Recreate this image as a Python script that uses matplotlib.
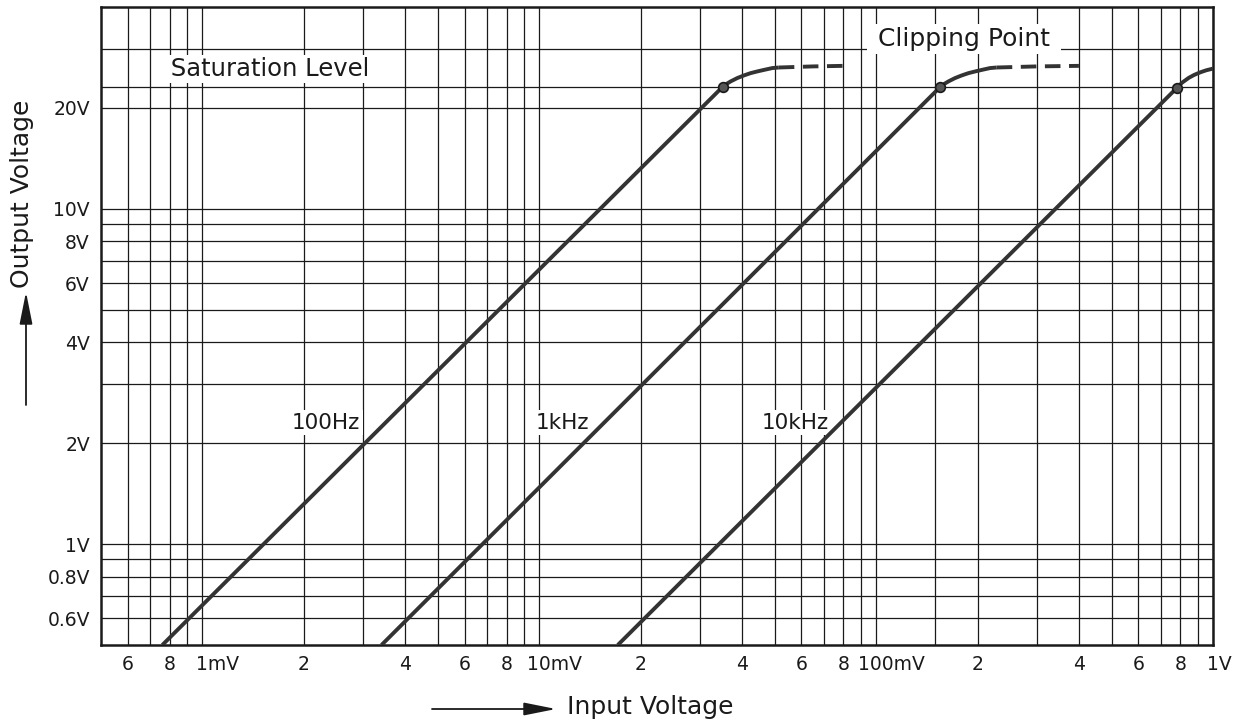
import numpy as np
import matplotlib
matplotlib.use("Agg")
import matplotlib.pyplot as plt
from matplotlib.ticker import NullFormatter
from matplotlib.transforms import ScaledTranslation

# input voltage in mV, output voltage in V
hz100_x = [0.76, 35.0, 36.0, 37.0, 38.7, 40.5, 42.4, 44.4, 46.7, 49.2, 51.4]
hz100_y = [0.5, 23.1, 23.6, 24.0, 24.55, 25.0, 25.4, 25.7, 26.0, 26.3, 26.4]
hz100_dash_x = [51.4, 65.0, 80.0]
hz100_dash_y = [26.4, 26.6, 26.7]

khz1_x = [3.4, 155.0, 159.5, 164.0, 171.5, 179.5, 188.0, 197.0, 207.0, 218.0, 228.0]
khz1_y = [0.5, 23.1, 23.6, 24.0, 24.55, 25.0, 25.4, 25.7, 26.0, 26.3, 26.4]
khz1_dash_x = [228.0, 300.0, 400.0]
khz1_dash_y = [26.4, 26.6, 26.7]

khz10_x = [17.1, 783.0, 810.0, 848.0, 880.0, 918.0, 955.0, 1000.0]
khz10_y = [0.5, 23.0, 23.8, 24.6, 25.1, 25.55, 25.9, 26.2]

clip_x = [35.0, 155.0, 783.0]
clip_y = [23.1, 23.1, 23.0]

curve_names = ["100Hz", "1kHz", "10kHz"]
curve_label_x = [2.33, 11.75, 57.5]
curve_label_y = [2.3, 2.3, 2.3]

xtick_mv = [0.6, 0.8, 1, 2, 4, 6, 8, 10, 20, 40, 60, 80, 100, 200, 400, 600, 800, 1000]
xtick_labels = ["6", "8", "1mV", "2", "4", "6", "8", "10mV", "2", "4", "6", "8",
                "100mV", "2", "4", "6", "8", "1V"]
ytick_v = [0.6, 0.8, 1, 2, 4, 6, 8, 10, 20]
ytick_labels = ["0.6V", "0.8V", "1V", "2V", "4V", "6V", "8V", "10V", "20V"]

xgrid_mv = [0.6, 0.7, 0.8, 0.9,
            1, 2, 3, 4, 5, 6, 7, 8, 9,
            10, 20, 30, 40, 50, 60, 70, 80, 90,
            100, 150, 200, 300, 400, 500, 600, 700, 800, 900]
ygrid_v = [0.6, 0.7, 0.8, 0.9, 1, 2, 3, 4, 5, 6, 7, 8, 9, 10, 20, 23.1, 30]

ink = "#1a1a1a"
curve_col = "#333333"

fig = plt.figure(figsize=(12.4, 7.22), dpi=100)
ax = fig.add_axes([0.0815, 0.1066, 0.8967, 0.8837])
ax.set_xscale("log")
ax.set_yscale("log")
ax.set_xlim(0.0005, 1.0)
ax.set_ylim(0.5, 40)

mv = lambda v: np.asarray(v) / 1000.0

# grid
ax.set_xticks(mv(xgrid_mv), minor=True)
ax.set_yticks(ygrid_v, minor=True)
ax.set_xticks(mv(xtick_mv))
ax.set_xticklabels([])
ax.set_yticks(ytick_v)
fs_tick = 13.5
ax.set_yticklabels(ytick_labels, fontsize=fs_tick, color=ink)
ax.xaxis.set_minor_formatter(NullFormatter())
ax.yaxis.set_minor_formatter(NullFormatter())
ax.tick_params(which="both", length=0)
ax.tick_params(axis="y", pad=8)
ax.grid(True, which="both", color=ink, lw=0.9)
ax.set_axisbelow(True)
for sp in ax.spines.values():
    sp.set_linewidth(1.8)
    sp.set_color(ink)

# x tick labels: number centred on its grid line, unit trailing
for xv, lab in zip(xtick_mv, xtick_labels):
    num = lab.rstrip("mV")
    if lab.endswith("V"):
        dx = -len(num) * 0.318 * fs_tick / 72.0
        ha = "left"
    else:
        dx = 0.0
        ha = "center"
    tr = ax.get_xaxis_transform() + ScaledTranslation(dx, -0.10, fig.dpi_scale_trans)
    ax.text(xv / 1000.0, 0, lab, transform=tr, ha=ha, va="top",
            fontsize=fs_tick, color=ink)

# curves
line_kw = dict(color=curve_col, lw=2.8, solid_capstyle="butt",
               solid_joinstyle="round", zorder=5)
ax.plot(mv(hz100_x), hz100_y, **line_kw)
ax.plot(mv(khz1_x), khz1_y, **line_kw)
ax.plot(mv(khz10_x), khz10_y, **line_kw)
ax.plot(mv(hz100_dash_x), hz100_dash_y, dashes=(4, 2.2), **line_kw)
ax.plot(mv(khz1_dash_x), khz1_dash_y, dashes=(4, 2.2), **line_kw)
ax.plot(mv(clip_x), clip_y, "o", ms=7, mfc="#555555", mec=ink, mew=1.2, zorder=6)

box = dict(boxstyle="square,pad=0.12", fc="white", ec="none")
for name, lx, ly in zip(curve_names, curve_label_x, curve_label_y):
    ax.text(lx / 1000.0, ly, name, fontsize=15.5, color=ink, ha="center",
            va="center", bbox=box, zorder=4)

ax.text(0.00159, 26.2, " Saturation Level ", fontsize=17.5, color=ink,
        ha="center", va="center", bbox=dict(boxstyle="square,pad=0.08", fc="white", ec="none"),
        zorder=4)
ax.text(0.182, 32.0, " Clipping Point ", fontsize=18, color=ink,
        ha="center", va="center", bbox=dict(boxstyle="square,pad=0.12", fc="white", ec="none"),
        zorder=4)

# axis titles with arrows
fig.text(22 / 1240, 1 - 194 / 722, "Output Voltage", rotation=90, fontsize=18,
         color=ink, ha="center", va="center")
fig.text(650 / 1240, 1 - 707 / 722, "Input Voltage", fontsize=18,
         color=ink, ha="center", va="center")
arrow = dict(arrowstyle="-|>,head_length=1.4,head_width=0.28", lw=1.3, color=ink,
             shrinkA=0, shrinkB=0, mutation_scale=14)
ax.annotate("", xy=(26, 722 - 292), xytext=(26, 722 - 405),
            xycoords="figure pixels", textcoords="figure pixels", arrowprops=arrow)
ax.annotate("", xy=(556, 722 - 709), xytext=(432, 722 - 709),
            xycoords="figure pixels", textcoords="figure pixels", arrowprops=arrow)

fig.savefig("out.png", dpi=100, facecolor="white")
